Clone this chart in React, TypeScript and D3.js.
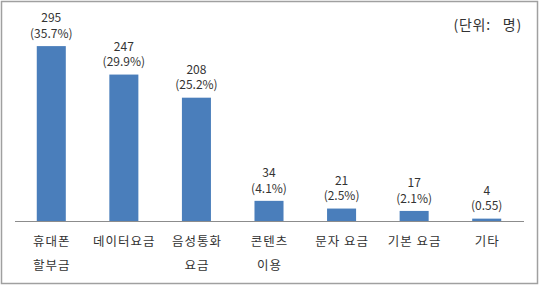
import React from "react";
import * as d3 from "d3";

const categories: string[][] = [
  ["휴대폰", "할부금"],
  ["데이터요금"],
  ["음성통화", "요금"],
  ["콘텐츠", "이용"],
  ["문자 요금"],
  ["기본 요금"],
  ["기타"],
];
const values: number[] = [295, 247, 208, 34, 21, 17, 4];
const pctLabels: string[] = ["(35.7%)", "(29.9%)", "(25.2%)", "(4.1%)", "(2.5%)", "(2.1%)", "(0.55)"];
const unitLabel = "(단위:   명)";

const W = 540;
const H = 285;
const FONT = "'Noto Sans CJK KR', 'Noto Sans', sans-serif";

export default function App() {
  const ids = categories.map((_, i) => String(i));
  const x = d3.scaleBand<string>().domain(ids).range([15, 523]).paddingInner(0.6).paddingOuter(0.3);
  const y = d3.scaleLinear().domain([0, 350]).range([221, 13.5]);
  const bw = x.bandwidth();

  return (
    <svg
      width={W}
      height={H}
      style={{ position: "fixed", left: 0, top: 0, background: "#fff" }}
      fontFamily={FONT}
    >
      <rect x={1.5} y={1.5} width={536} height={282} fill="#fff" stroke="#a0a0a0" strokeWidth={1.5} />
      <text
        x={522}
        y={25}
        dy="0.35em"
        textAnchor="end"
        fontSize={14}
        fill="#333"
        letterSpacing={0.8}
        style={{ whiteSpace: "pre" }}
      >
        {unitLabel}
      </text>
      {values.map((v, i) => {
        const cx = (x(ids[i]) as number) + bw / 2;
        const top = y(v);
        return (
          <g key={i}>
            <rect x={x(ids[i])} y={top} width={bw} height={y(0) - top} fill="#4a7ebb" />
            <text x={cx} y={top - 28} dy="0.35em" textAnchor="middle" fontSize={12} fill="#333">
              {v}
            </text>
            <text x={cx} y={top - 12.5} dy="0.35em" textAnchor="middle" fontSize={12} fill="#333">
              {pctLabels[i]}
            </text>
            {categories[i].map((line, j) => (
              <text
                key={j}
                x={cx + 0.5}
                y={242 + j * 24}
                dy="0.35em"
                textAnchor="middle"
                fontSize={12.5}
                letterSpacing={1}
                fill="#333"
              >
                {line}
              </text>
            ))}
          </g>
        );
      })}
      <line x1={15} x2={524} y1={y(0) + 0.5} y2={y(0) + 0.5} stroke="#8c8c8c" strokeWidth={1} />
    </svg>
  );
}
